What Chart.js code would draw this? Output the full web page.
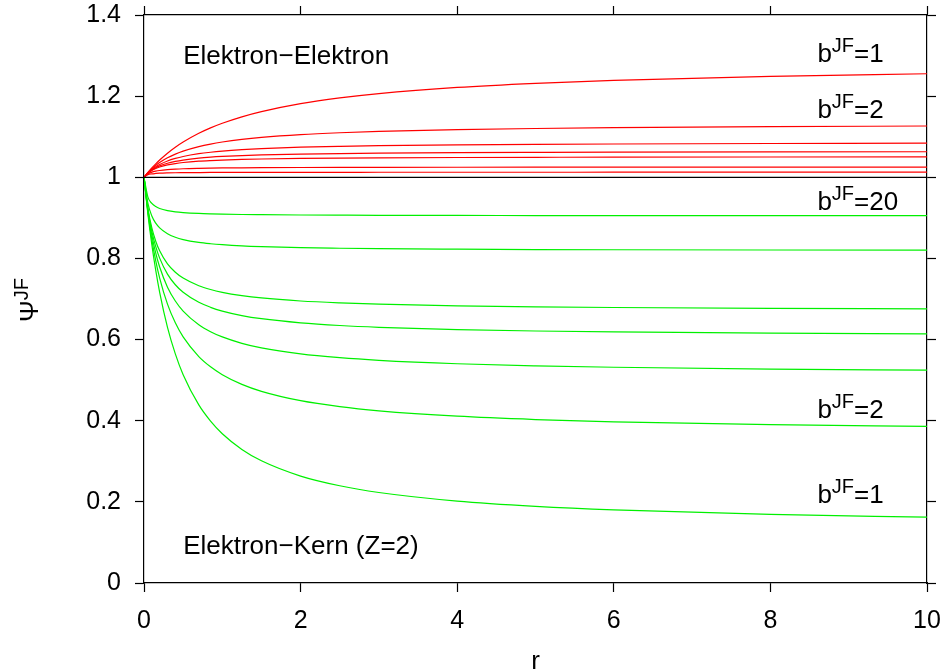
<!DOCTYPE html>
<html>
<head>
<meta charset="utf-8">
<script src="https://cdn.jsdelivr.net/npm/chart.js@4/dist/chart.umd.min.js"></script>
<style>
html,body{margin:0;padding:0;background:#fff;}
#wrap{width:947px;height:670px;position:relative;}
</style>
</head>
<body>
<div id="wrap"><canvas id="c" width="947" height="670"></canvas></div>
<script>
// radial distance r
const rValues = [0, 0.05, 0.1, 0.15, 0.2, 0.3, 0.4, 0.5, 0.7, 0.85, 1, 1.25, 1.5, 2, 2.5, 3, 4, 5, 6, 8, 10];

// Elektron-Elektron curves (red), b^JF = 1,2,3,4,5,10,20
const ee_b1  = [1, 1.0120, 1.0230, 1.0331, 1.0425, 1.0594, 1.0741, 1.0869, 1.1084, 1.1217, 1.1331, 1.1490, 1.1618, 1.1814, 1.1955, 1.2062, 1.2214, 1.2316, 1.2390, 1.2488, 1.2552];
const ee_b2  = [1, 1.0114, 1.0211, 1.0293, 1.0364, 1.0480, 1.0571, 1.0645, 1.0756, 1.0819, 1.0869, 1.0934, 1.0983, 1.1052, 1.1098, 1.1131, 1.1175, 1.1203, 1.1223, 1.1248, 1.1264];
const ee_b3  = [1, 1.0109, 1.0194, 1.0262, 1.0317, 1.0403, 1.0465, 1.0513, 1.0581, 1.0617, 1.0645, 1.0680, 1.0706, 1.0741, 1.0763, 1.0779, 1.0800, 1.0813, 1.0821, 1.0833, 1.0840];
const ee_b4  = [1, 1.0105, 1.0180, 1.0237, 1.0282, 1.0347, 1.0392, 1.0425, 1.0471, 1.0495, 1.0513, 1.0535, 1.0550, 1.0571, 1.0585, 1.0594, 1.0606, 1.0613, 1.0618, 1.0625, 1.0629];
const ee_b5  = [1, 1.0101, 1.0168, 1.0217, 1.0253, 1.0305, 1.0339, 1.0364, 1.0397, 1.0413, 1.0425, 1.0440, 1.0451, 1.0465, 1.0474, 1.0480, 1.0488, 1.0493, 1.0496, 1.0500, 1.0502];
const ee_b10 = [1, 1.0084, 1.0126, 1.0151, 1.0168, 1.0189, 1.0202, 1.0211, 1.0221, 1.0226, 1.0230, 1.0234, 1.0237, 1.0241, 1.0243, 1.0245, 1.0247, 1.0248, 1.0249, 1.0250, 1.0251];
const ee_b20 = [1, 1.0063, 1.0084, 1.0094, 1.0101, 1.0108, 1.0112, 1.0114, 1.0117, 1.0119, 1.0120, 1.0121, 1.0122, 1.0123, 1.0123, 1.0124, 1.0124, 1.0124, 1.0125, 1.0125, 1.0125];

// Elektron-Kern (Z=2) curves (green), b^JF = 1,2,3,4,5,10,20
const en_b1  = [1, 0.9092, 0.8338, 0.7704, 0.7165, 0.6303, 0.5647, 0.5134, 0.4389, 0.3990, 0.3679, 0.3292, 0.3012, 0.2636, 0.2397, 0.2231, 0.2019, 0.1889, 0.1801, 0.1690, 0.1623];
const en_b2  = [1, 0.9131, 0.8465, 0.7939, 0.7515, 0.6873, 0.6412, 0.6065, 0.5580, 0.5328, 0.5134, 0.4895, 0.4724, 0.4493, 0.4346, 0.4244, 0.4111, 0.4029, 0.3973, 0.3902, 0.3859];
const en_b3  = [1, 0.9167, 0.8574, 0.8131, 0.7788, 0.7292, 0.6951, 0.6703, 0.6366, 0.6195, 0.6065, 0.5908, 0.5795, 0.5647, 0.5553, 0.5488, 0.5404, 0.5353, 0.5318, 0.5273, 0.5246];
const en_b4  = [1, 0.9200, 0.8669, 0.8290, 0.8007, 0.7613, 0.7351, 0.7165, 0.6918, 0.6795, 0.6703, 0.6592, 0.6514, 0.6412, 0.6347, 0.6303, 0.6246, 0.6211, 0.6188, 0.6158, 0.6140];
const en_b5  = [1, 0.9231, 0.8752, 0.8425, 0.8187, 0.7866, 0.7659, 0.7515, 0.7326, 0.7233, 0.7165, 0.7084, 0.7026, 0.6951, 0.6905, 0.6873, 0.6832, 0.6807, 0.6790, 0.6769, 0.6756];
const en_b10 = [1, 0.9355, 0.9048, 0.8869, 0.8752, 0.8607, 0.8521, 0.8465, 0.8395, 0.8362, 0.8338, 0.8309, 0.8290, 0.8265, 0.8251, 0.8240, 0.8228, 0.8219, 0.8214, 0.8208, 0.8204];
const en_b20 = [1, 0.9512, 0.9355, 0.9277, 0.9231, 0.9179, 0.9149, 0.9131, 0.9109, 0.9099, 0.9092, 0.9083, 0.9078, 0.9070, 0.9066, 0.9063, 0.9060, 0.9057, 0.9056, 0.9054, 0.9053];

// reference line Psi = 1
const refX = [0, 10];
const refY = [1, 1];

const xTickValues = [0, 2, 4, 6, 8, 10];
const yTickValues = [0, 0.2, 0.4, 0.6, 0.8, 1, 1.2, 1.4];

const eeSeries = [ee_b1, ee_b2, ee_b3, ee_b4, ee_b5, ee_b10, ee_b20];
const enSeries = [en_b1, en_b2, en_b3, en_b4, en_b5, en_b10, en_b20];
const bLabels = ['1', '2', '3', '4', '5', '10', '20'];

// text annotations (rich text parts: [text, isSuperscript]); anchored in data coordinates (left, baseline)
const annotations = [
  {parts: [['Elektron\u2212Elektron', false]], x: 0.5, y: 1.28},
  {parts: [['b', false], ['JF', true], ['=1', false]], x: 8.6, y: 1.284},
  {parts: [['b', false], ['JF', true], ['=2', false]], x: 8.6, y: 1.146},
  {parts: [['b', false], ['JF', true], ['=20', false]], x: 8.6, y: 0.919},
  {parts: [['b', false], ['JF', true], ['=2', false]], x: 8.6, y: 0.407},
  {parts: [['b', false], ['JF', true], ['=1', false]], x: 8.6, y: 0.197},
  {parts: [['Elektron\u2212Kern (Z=2)', false]], x: 0.5, y: 0.0715}
];

const FONT = '"Liberation Sans", Arial, Helvetica, sans-serif';
const LABEL_SIZE = 26, SUP_SIZE = 20, SUP_RAISE = 10;

function toPts(ys) { return rValues.map((r, i) => ({x: r, y: ys[i]})); }

const datasets = [];
datasets.push({label: 'ref', data: refX.map((x, i) => ({x: x, y: refY[i]})), borderColor: '#000000', borderWidth: 1.2, pointRadius: 0, tension: 0});
eeSeries.forEach((s, i) => datasets.push({label: 'ee b=' + bLabels[i], data: toPts(s), borderColor: '#ff0000', borderWidth: 1.2, pointRadius: 0, cubicInterpolationMode: 'monotone'}));
enSeries.forEach((s, i) => datasets.push({label: 'en b=' + bLabels[i], data: toPts(s), borderColor: '#00f000', borderWidth: 1.2, pointRadius: 0, cubicInterpolationMode: 'monotone'}));

function drawRich(ctx, parts, x, y) {
  let cx = x;
  parts.forEach(([t, sup]) => {
    ctx.font = (sup ? SUP_SIZE : LABEL_SIZE) + 'px ' + FONT;
    ctx.fillText(t, cx, sup ? y - SUP_RAISE : y);
    cx += ctx.measureText(t).width;
  });
}

const textPlugin = {
  id: 'textPlugin',
  afterDraw(chart) {
    const ctx = chart.ctx;
    const xs = chart.scales.x, ys = chart.scales.y;
    ctx.save();
    ctx.fillStyle = '#000';
    ctx.textBaseline = 'alphabetic';
    ctx.textAlign = 'left';
    annotations.forEach(a => drawRich(ctx, a.parts, xs.getPixelForValue(a.x), ys.getPixelForValue(a.y)));
    // y axis title: Psi^JF rotated
    ctx.save();
    ctx.translate(38, 322);
    ctx.rotate(-Math.PI / 2);
    drawRich(ctx, [['\u03A8', false], ['JF', true]], 0, 0);
    ctx.restore();
    // x axis title
    ctx.font = '26px ' + FONT;
    ctx.textAlign = 'center';
    ctx.fillText('r', (chart.chartArea.left + chart.chartArea.right) / 2, 669);
    ctx.restore();
  }
};

const tickFont = {family: FONT, size: 25};
const gridCfg = {display: true, drawOnChartArea: false, drawTicks: true, tickLength: 9, tickColor: '#000', tickWidth: 1.2};
const borderCfg = {display: true, color: '#000', width: 1.2};

function fixSize(prop, val) {
  return s => {
    s[prop] = val;
    s.paddingLeft = 0; s.paddingRight = 0; s.paddingTop = 0; s.paddingBottom = 0;
  };
}

new Chart(document.getElementById('c'), {
  type: 'line',
  data: {datasets: datasets},
  options: {
    responsive: false,
    animation: false,
    events: [],
    layout: {padding: 0},
    plugins: {legend: {display: false}, tooltip: {enabled: false}, title: {display: false}},
    scales: {
      x: {
        type: 'linear', position: 'bottom', min: 0, max: 10,
        afterBuildTicks: s => { s.ticks = xTickValues.map(v => ({value: v})); },
        afterFit: fixSize('height', 87),
        ticks: {font: tickFont, color: '#000', padding: 14, maxRotation: 0},
        grid: gridCfg, border: borderCfg
      },
      x2: {
        type: 'linear', position: 'top', min: 0, max: 10,
        afterBuildTicks: s => { s.ticks = xTickValues.map(v => ({value: v})); },
        afterFit: fixSize('height', 15),
        ticks: {display: false},
        grid: gridCfg, border: borderCfg
      },
      y: {
        type: 'linear', position: 'left', min: 0, max: 1.4,
        afterBuildTicks: s => { s.ticks = yTickValues.map(v => ({value: v})); },
        afterFit: fixSize('width', 144),
        ticks: {font: tickFont, color: '#000', padding: 14, callback: v => String(Math.round(v * 10) / 10)},
        grid: gridCfg, border: borderCfg
      },
      y2: {
        type: 'linear', position: 'right', min: 0, max: 1.4,
        afterBuildTicks: s => { s.ticks = yTickValues.map(v => ({value: v})); },
        afterFit: fixSize('width', 20),
        ticks: {display: false},
        grid: gridCfg, border: borderCfg
      }
    }
  },
  plugins: [textPlugin]
});
</script>
</body>
</html>
